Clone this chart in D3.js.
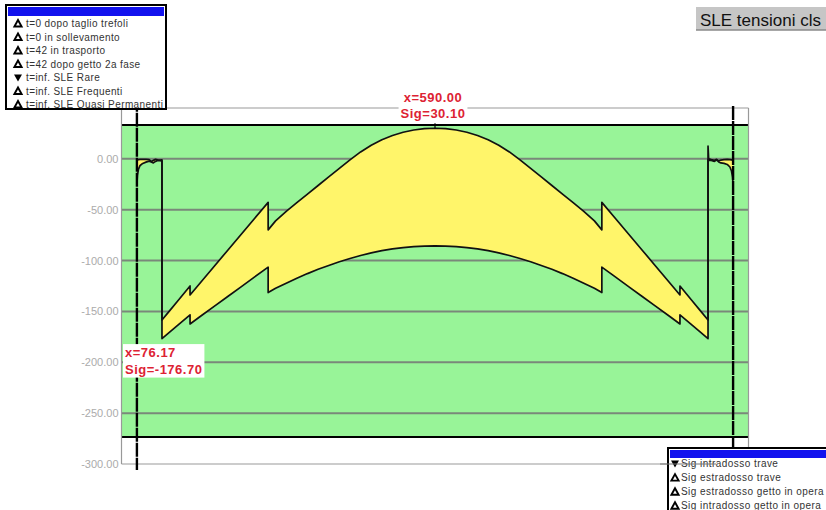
<!DOCTYPE html>
<html><head><meta charset="utf-8">
<script src="https://cdn.jsdelivr.net/npm/d3@7"></script>
<style>html,body{margin:0;padding:0;background:#fff;} svg{display:block;font-family:Arial,"Liberation Sans",sans-serif;}</style>
</head><body><svg id="c" width="826" height="510"></svg>
<script>
// ---- data (x in cm along the beam, stresses) ----
const xPos = [
  29, 30, 32, 35, 40, 46, 52, 56, 60, 64, 68, 72, 76.17,
  76.17, 90, 105, 129,
  129, 150, 175, 200, 225, 250, 276,
  276, 290, 310, 330, 350, 370, 390, 410, 430, 450, 470, 490, 510, 530, 550, 570, 590,
  610, 630, 650, 670, 690, 710, 730, 750, 770, 790, 810, 830, 850, 870, 890, 904,
  904, 930, 955, 980, 1005, 1030, 1051,
  1051, 1075, 1090, 1103.83,
  1103.83, 1105, 1110, 1116, 1120, 1124, 1128, 1134, 1140, 1145, 1148, 1150, 1151
];
const sigTop = [
  -1.5, -1, -0.8, -0.6, -0.5, -0.5, -0.8, -2.5, -1.5, -0.5, -1, -1.2, -1.0,
  -158.4, -149.7, -140.3, -125,
  -133.8, -120.8, -105.3, -89.8, -74.3, -58.9, -42.8,
  -69.8, -61.0, -51.6, -43.0, -34.6, -26.2, -17.8, -9.4, -1.0, 6.8, 13.4, 18.8, 23.0, 26.2, 28.4, 29.7, 30.1,
  29.7, 28.4, 26.2, 23.0, 18.8, 13.4, 6.8, -1.0, -9.4, -17.8, -26.2, -34.6, -43.0, -51.6, -61.0, -69.8,
  -42.8, -58.9, -74.3, -89.8, -105.3, -120.8, -133.8,
  -125, -140.3, -149.7, -158.4,
  12.5, 0, -0.8, -1.5, -0.5, -2.0, -1.2, -0.8, -0.6, -0.8, -1.0, -1.2, -1.5
];
const sigBot = [
  -25, -16, -10, -6.5, -4.5, -3.2, -2.2, -3, -4, -2.5, -1.5, -1.8, -2.0,
  -176.7, -170.6, -164, -153.4,
  -162.3, -154.3, -144.8, -135.3, -125.8, -116.3, -106.5,
  -131.5, -127.3, -122.2, -117.3, -112.8, -108.6, -104.8, -101.2, -98.0, -95.0, -92.5, -90.3, -88.5, -87.2, -86.3, -85.8, -85.6,
  -85.8, -86.3, -87.2, -88.5, -90.3, -92.5, -95.0, -98.0, -101.2, -104.8, -108.6, -112.8, -117.3, -122.2, -127.3, -131.5,
  -106.5, -116.3, -125.8, -135.3, -144.8, -154.3, -162.3,
  -153.4, -164, -170.6, -176.7,
  -1, -1.2, -1.5, -2.5, -1.0, -3.0, -4.0, -4.5, -5.5, -8, -12, -18, -26
];
const yTicks = [0, -50, -100, -150, -200, -250, -300];
const yTickLabels = ["0.00", "-50.00", "-100.00", "-150.00", "-200.00", "-250.00", "-300.00"];
const limitValues = [33.4, -273.4];
const beamEnds = [29, 1151];
const maxPoint = {x: 590.00, sig: 30.10};
const minPoint = {x: 76.17, sig: -176.70};
const legendTopLabels = ["t=0 dopo taglio trefoli", "t=0 in sollevamento", "t=42 in trasporto",
  "t=42 dopo getto 2a fase", "t=inf. SLE Rare", "t=inf. SLE Frequenti", "t=inf. SLE Quasi Permanenti"];
const legendTopSymbols = ["up", "up", "up", "up", "down", "up", "up"];
const legendBottomLabels = ["Sig intradosso trave", "Sig estradosso trave", "Sig estradosso getto in opera", "Sig intradosso getto in opera"];
const legendBottomSymbols = ["down", "up", "up", "up"];
const title = "SLE tensioni cls";

// ---- drawing ----
const svg = d3.select("#c");
const x = d3.scaleLinear().domain([0, 1180]).range([121.5, 748.5]);
const y = d3.scaleLinear().domain([50, -300]).range([108, 464]);
const pts = xPos.map((v, i) => ({x: v, t: sigTop[i], b: sigBot[i]}));

// green admissible band
svg.append("rect").attr("x", x(0)).attr("y", y(limitValues[0]))
  .attr("width", x(1180) - x(0)).attr("height", y(limitValues[1]) - y(limitValues[0]))
  .attr("fill", "#98f498");

// gridlines
svg.append("g").selectAll("line").data(yTicks.filter(v => v > -300)).join("line")
  .attr("x1", x(0)).attr("x2", x(1180)).attr("y1", d => y(d)).attr("y2", d => y(d))
  .attr("stroke", "#7a887a").attr("stroke-width", 2);

// yellow area between curves
svg.append("path").datum(pts)
  .attr("d", d3.area().x(d => x(d.x)).y0(d => y(d.b)).y1(d => y(d.t)))
  .attr("fill", "#fff56a");

// curves
const lineT = d3.line().x(d => x(d.x)).y(d => y(d.t));
const lineB = d3.line().x(d => x(d.x)).y(d => y(d.b));
svg.append("path").datum(pts).attr("d", lineT).attr("fill", "none").attr("stroke", "#111").attr("stroke-width", 1.7).attr("stroke-linejoin", "round");
svg.append("path").datum(pts).attr("d", lineB).attr("fill", "none").attr("stroke", "#111").attr("stroke-width", 1.7).attr("stroke-linejoin", "round");

// limit lines
svg.append("g").selectAll("line").data(limitValues).join("line")
  .attr("x1", x(0)).attr("x2", x(1180)).attr("y1", d => y(d)).attr("y2", d => y(d))
  .attr("stroke", "#000").attr("stroke-width", 2);

// frame
const frame = svg.append("g").attr("stroke", "#999").attr("stroke-width", 1.2);
frame.append("line").attr("x1", x(0)).attr("x2", x(1180)).attr("y1", y(50)).attr("y2", y(50));
frame.append("line").attr("x1", x(0)).attr("x2", x(0)).attr("y1", y(50)).attr("y2", y(-300));
frame.append("line").attr("x1", x(1180)).attr("x2", x(1180)).attr("y1", y(50)).attr("y2", y(-300));
frame.append("line").attr("x1", x(0)).attr("x2", x(1180)).attr("y1", y(-300)).attr("y2", y(-300));

// y axis labels
const ax = svg.append("g").attr("transform", `translate(${x(0)},0)`)
  .call(d3.axisLeft(y).tickValues(yTicks).tickFormat((d, i) => yTickLabels[i]).tickSize(0).tickPadding(3));
ax.select(".domain").remove();
ax.selectAll("text").attr("fill", "#ababab").attr("font-size", 11).attr("font-family", "Arial, 'Liberation Sans', sans-serif");

// beam end lines
svg.append("g").selectAll("line").data(beamEnds).join("line")
  .attr("x1", d => x(d)).attr("x2", d => x(d)).attr("y1", (d, i) => i === 0 ? y(60) : y(52)).attr("y2", y(-306))
  .attr("stroke", "#000").attr("stroke-width", 2.4).attr("stroke-dasharray", "14,1");

// peak tick
svg.append("line").attr("x1", x(maxPoint.x)).attr("x2", x(maxPoint.x))
  .attr("y1", y(maxPoint.sig)).attr("y2", y(maxPoint.sig) - 5).attr("stroke", "#000").attr("stroke-width", 1.2);

// legends
function symbol(g, type, cx, cy) {
  if (type === "down") {
    g.append("path").attr("d", `M${cx-4},${cy-3}L${cx+4},${cy-3}L${cx},${cy+4}Z`).attr("fill", "#000");
  } else {
    g.append("path").attr("d", `M${cx},${cy-3.5}L${cx+3.6},${cy+3}L${cx-3.6},${cy+3}Z`)
      .attr("fill", "#fff").attr("stroke", "#000").attr("stroke-width", 1.9).attr("stroke-linejoin", "miter");
  }
}
const lt = svg.append("g");
lt.append("rect").attr("x", 6).attr("y", 5).attr("width", 160).attr("height", 104).attr("fill", "#fff").attr("stroke", "#000").attr("stroke-width", 2);
lt.append("rect").attr("x", 8).attr("y", 7).attr("width", 156).attr("height", 9).attr("fill", "#1212ee");
legendTopLabels.forEach((t, i) => {
  const cy = 23.5 + i * 13.5;
  symbol(lt, legendTopSymbols[i], 18, cy);
  lt.append("text").attr("x", 26).attr("y", cy + 3.6).attr("font-size", 10).attr("letter-spacing", 0.4).attr("fill", "#333").text(t);
});

const lb = svg.append("g");
lb.append("rect").attr("x", 668).attr("y", 448).attr("width", 180).attr("height", 80).attr("fill", "#fff").attr("stroke", "#000").attr("stroke-width", 2);
lb.append("rect").attr("x", 670).attr("y", 450).attr("width", 180).attr("height", 8).attr("fill", "#1212ee");
legendBottomLabels.forEach((t, i) => {
  const cy = 463.5 + i * 14.1;
  symbol(lb, legendBottomSymbols[i], 675, cy);
  lb.append("text").attr("x", 681).attr("y", cy + 3.6).attr("font-size", 10).attr("letter-spacing", 0.45).attr("fill", "#333").text(t);
});
// axis line continuing across the bottom legend
svg.append("line").attr("x1", 660).attr("x2", 716).attr("y1", y(-300)).attr("y2", y(-300)).attr("stroke", "#777").attr("stroke-width", 1.2);

// annotations
function label(lines, ax, ay, anchor) {
  const g = svg.append("g");
  const bg = g.append("rect").attr("fill", "#fff");
  const tx = g.append("g");
  lines.forEach((s, i) => {
    tx.append("text").attr("x", ax).attr("y", ay + i * 16.5).attr("text-anchor", anchor)
      .attr("font-size", 13).attr("font-weight", "bold").attr("letter-spacing", 0.5).attr("fill", "#dd2233").text(s);
  });
  const bb = tx.node().getBBox();
  bg.attr("x", bb.x - 2).attr("y", bb.y - 1).attr("width", bb.width + 4).attr("height", bb.height + 2);
}
label([`x=${maxPoint.x.toFixed(2)}`, `Sig=${maxPoint.sig.toFixed(2)}`], x(maxPoint.x) - 2, y(maxPoint.sig) - 26.5, "middle");
label([`x=${minPoint.x.toFixed(2)}`, `Sig=${minPoint.sig.toFixed(2)}`], x(0) + 3.5, y(minPoint.sig) + 18.5, "start");

// title box
const tb = svg.append("g");
tb.append("rect").attr("x", 696).attr("y", 7).attr("width", 140).attr("height", 23).attr("fill", "#c6c6c6");
tb.append("line").attr("x1", 696).attr("x2", 836).attr("y1", 30).attr("y2", 30).attr("stroke", "#8a8a8a").attr("stroke-width", 1.5);
tb.append("text").attr("x", 700).attr("y", 25.5).attr("font-size", 17).attr("fill", "#111").text(title);
</script></body></html>
